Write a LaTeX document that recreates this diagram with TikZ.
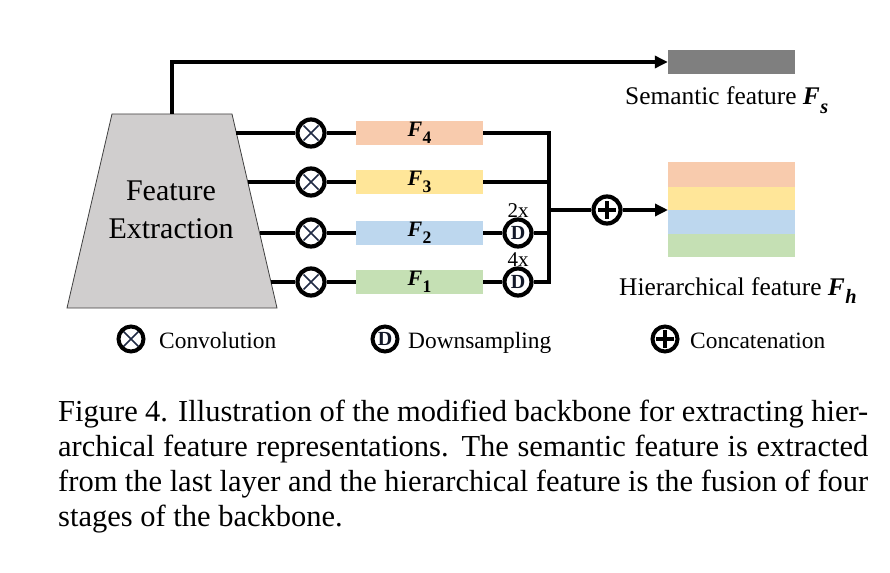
\documentclass[tikz,border=0pt]{standalone}
\usepackage{fontspec}
\setmainfont{Liberation Serif}
\usepackage{graphicx}
\usetikzlibrary{arrows.meta}
\definecolor{fOrange}{HTML}{F8CBAD}
\definecolor{fYellow}{HTML}{FFE699}
\definecolor{fBlue}{HTML}{BDD7EE}
\definecolor{fGreen}{HTML}{C5E0B4}
\definecolor{semGray}{HTML}{7F7F7F}
\definecolor{trapFill}{HTML}{D0CECE}
\definecolor{crossCol}{HTML}{1F2A44}
\newcommand{\Fsym}[1]{\textbf{\textit{F}}\kern0.5pt\raisebox{-0.32em}{\scalebox{0.8}{\bfseries #1}}}
\tikzset{
  wire/.style={line width=4pt, line join=miter},
  arrowwire/.style={wire, -{Triangle[length=13pt,width=12pt]}},
  opbase/.style={circle, draw, fill=white, inner sep=0pt},
  bigop/.style={opbase, line width=4.2pt, minimum size=27pt},
  legop/.style={opbase, line width=4pt, minimum size=25pt},
  crossmark/.style={path picture={
      \draw[line width=1.6pt, crossCol]
        ([shift={(-7.5pt,-7.5pt)}]path picture bounding box.center) -- ([shift={(7.5pt,7.5pt)}]path picture bounding box.center)
        ([shift={(-7.5pt,7.5pt)}]path picture bounding box.center) -- ([shift={(7.5pt,-7.5pt)}]path picture bounding box.center);}},
  plusmark/.style={path picture={
      \draw[line width=3.2pt, black]
        ([shift={(-9pt,0pt)}]path picture bounding box.center) -- ([shift={(9pt,0pt)}]path picture bounding box.center)
        ([shift={(0pt,-9pt)}]path picture bounding box.center) -- ([shift={(0pt,9pt)}]path picture bounding box.center);}},
  dmark/.style={font=\fontsize{20}{20}\selectfont\bfseries, text=crossCol!60!black},
  featbox/.style={minimum width=127pt, minimum height=24pt, inner sep=0pt, font=\fontsize{22}{22}\selectfont},
  band/.style={minimum width=127pt, inner sep=0pt},
  lbl/.style={anchor=base west, inner sep=0pt, font=\fontsize{25.4}{26}\selectfont},
  leglbl/.style={anchor=base west, inner sep=0pt, font=\fontsize{23.4}{24}\selectfont},
  scalelbl/.style={anchor=base, inner sep=0pt, font=\fontsize{21}{21}\selectfont},
  captxt/.style={anchor=base west, inner sep=0pt, font=\fontsize{30.5}{35}\selectfont},
}
\begin{document}
\begin{tikzpicture}[x=1pt, y=-1pt]
\useasboundingbox (0,0) rectangle (890,572);
% trapezoid backbone
\coordinate (tl) at (112,114);
\coordinate (tr) at (232,114);
\coordinate (br) at (277,308);
\coordinate (bl) at (67,308);
\draw[fill=trapFill, draw=black!75, line width=0.8pt] (tl) -- (tr) -- (br) -- (bl) -- cycle;
\node[align=center, inner sep=0pt, font=\fontsize{30}{38}\selectfont] (fe) at (171,210) {Feature\\Extraction};
\coordinate (ttop) at (172,114);
\coordinate (t4) at (236.4,133);
\coordinate (t3) at (247.8,182);
\coordinate (t2) at (259.6,233);
\coordinate (t1) at (271,282);
% conv circles
\node[bigop, crossmark] (c4) at (311,133) {};
\node[bigop, crossmark] (c3) at (311,182) {};
\node[bigop, crossmark] (c2) at (311,233) {};
\node[bigop, crossmark] (c1) at (311,282) {};
% feature boxes
\node[featbox, fill=fOrange] (f4) at (419.5,133) {\Fsym{4}};
\node[featbox, fill=fYellow] (f3) at (419.5,182) {\Fsym{3}};
\node[featbox, fill=fBlue] (f2) at (419.5,233) {\Fsym{2}};
\node[featbox, fill=fGreen] (f1) at (419.5,282) {\Fsym{1}};
% downsampling
\node[bigop, dmark] (d2) at (518,233) {D};
\node[bigop, dmark] (d1) at (518,282) {D};
\node[scalelbl] (s2) at (518,217) {2x};
\node[scalelbl] (s1) at (518,266) {4x};
% bus
\coordinate (b4) at (549,133);
\coordinate (b1) at (549,282);
\coordinate (bm) at (549,210);
% semantic feature
\node[minimum width=127pt, minimum height=24pt, inner sep=0pt, fill=semGray] (sem) at (731.5,62) {};
\node[lbl] (semlbl) at (625,105) {Semantic feature \Fsym{\itshape s}};
% hierarchical feature
\node[band, minimum height=25pt, fill=fOrange] (h4) at (731.5,174.5) {};
\node[band, minimum height=23pt, fill=fYellow] (h3) at (731.5,198.5) {};
\node[band, minimum height=24pt, fill=fBlue] (h2) at (731.5,222) {};
\node[band, minimum height=23pt, fill=fGreen] (h1) at (731.5,245.5) {};
\coordinate (hw) at (668,210);
\node[lbl] (hierlbl) at (619,295) {Hierarchical feature \Fsym{\itshape h}};
% concat
\node[bigop, plusmark] (cat) at (607,210) {};
% wires
\draw[arrowwire] (ttop) |- (sem.west);
\draw[wire] (t4) -- (c4) -- (f4);
\draw[wire] (t3) -- (c3) -- (f3);
\draw[wire] (t2) -- (c2) -- (f2);
\draw[wire] (t1) -- (c1) -- (f1);
\draw[wire] (f2) -- (d2);
\draw[wire] (f4.east) -- (b4) -- (b1) -- (d1);
\draw[wire] (f1) -- (d1);
\draw[wire] (f3.east) -- (f3.east -| b4);
\draw[wire] (d2) -- (d2 -| b4);
\draw[wire] (bm) -- (cat);
\draw[arrowwire] (cat) -- (hw);
% legend
\node[legop, crossmark] (lc) at (131,339) {};
\node[leglbl] (lct) at (159,348) {Convolution};
\node[legop, dmark] (ld) at (385,339) {D};
\node[leglbl] (ldt) at (408,348) {Downsampling};
\node[legop, plusmark] (lp) at (665,339) {};
\node[leglbl] (lpt) at (690,348) {Concatenation};
% caption
\node[captxt] (cap1) at (58,421) {\makebox[810pt][s]{Figure 4. Illustration of the modified backbone for extracting hier-}};
\node[captxt] (cap2) at (58,456) {\makebox[810pt][s]{archical feature representations. The semantic feature is extracted}};
\node[captxt] (cap3) at (58,491) {\makebox[810pt][s]{from the last layer and the hierarchical feature is the fusion of four}};
\node[captxt] (cap4) at (58,526) {stages of the backbone.};
\end{tikzpicture}
\end{document}
